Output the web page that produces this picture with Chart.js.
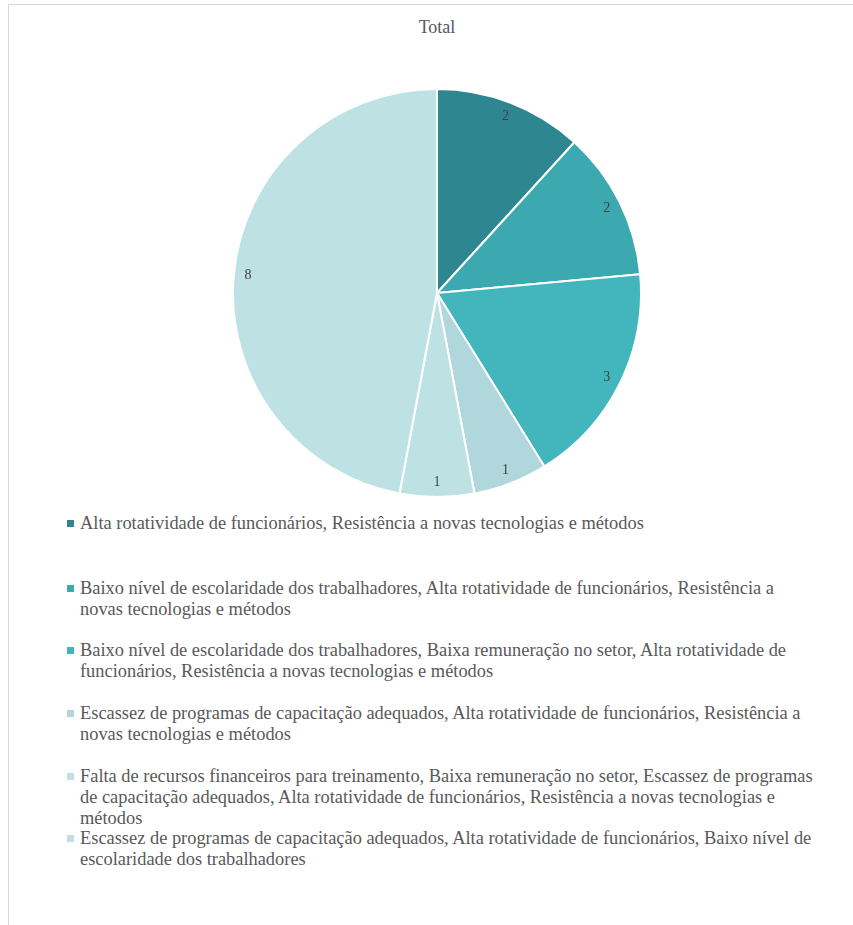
<!DOCTYPE html>
<html>
<head>
<meta charset="utf-8">
<script src="https://cdn.jsdelivr.net/npm/chart.js@4"></script>
<style>
  html,body{margin:0;padding:0;background:#fff;}
  body{width:853px;height:925px;position:relative;overflow:hidden;font-family:"Liberation Serif","Times New Roman",serif;}
  #frame{position:absolute;left:8px;top:4px;right:-2px;bottom:-2px;border-top:1px solid #d6d6d6;border-left:1px solid #d6d6d6;}
  #title{position:absolute;left:0;width:874px;top:16px;text-align:center;font-size:18px;color:#595959;line-height:22px;}
  #pieBox{position:absolute;left:232px;top:88px;width:410px;height:410px;}
  .leg{position:absolute;left:80px;font-size:18.4px;line-height:21px;color:#595959;white-space:nowrap;}
  .sw{position:absolute;left:-13px;top:7px;width:7px;height:7px;}
</style>
</head>
<body>
<div id="frame"></div>
<div id="title"></div>
<div id="pieBox"><canvas id="c" width="410" height="410"></canvas></div>
<div id="legend"></div>
<script>
const chartTitle = "Total";
const categories = [
  ["Alta rotatividade de funcionários, Resistência a novas tecnologias e métodos"],
  ["Baixo nível de escolaridade dos trabalhadores, Alta rotatividade de funcionários, Resistência a", "novas tecnologias e métodos"],
  ["Baixo nível de escolaridade dos trabalhadores, Baixa remuneração no setor, Alta rotatividade de", "funcionários, Resistência a novas tecnologias e métodos"],
  ["Escassez de programas de capacitação adequados, Alta rotatividade de funcionários, Resistência a", "novas tecnologias e métodos"],
  ["Falta de recursos financeiros para treinamento, Baixa remuneração no setor, Escassez de programas", "de capacitação adequados, Alta rotatividade de funcionários, Resistência a novas tecnologias e", "métodos"],
  ["Escassez de programas de capacitação adequados, Alta rotatividade de funcionários, Baixo nível de", "escolaridade dos trabalhadores"]
];
const values = [2, 2, 3, 1, 1, 8];
const colors = ["#2E8790", "#3CA8AF", "#42B5BD", "#AFD7DC", "#BEE2E4", "#BEE2E3"];

document.getElementById('title').textContent = chartTitle;

const legendTops = [513, 578, 640, 703, 766, 828];
const legend = document.getElementById('legend');
categories.forEach((lines, i) => {
  const d = document.createElement('div');
  d.className = 'leg';
  d.style.top = legendTops[i] + 'px';
  const sw = document.createElement('span');
  sw.className = 'sw';
  sw.style.background = colors[i];
  d.appendChild(sw);
  lines.forEach((ln, j) => {
    if (j) d.appendChild(document.createElement('br'));
    d.appendChild(document.createTextNode(ln));
  });
  legend.appendChild(d);
});

const sliceLabels = {
  id: 'sliceLabels',
  afterDatasetsDraw(chart) {
    const ctx = chart.ctx;
    const meta = chart.getDatasetMeta(0);
    ctx.save();
    ctx.font = '14px "Liberation Serif", serif';
    ctx.fillStyle = '#404040';
    ctx.textAlign = 'center';
    ctx.textBaseline = 'middle';
    meta.data.forEach((arc, i) => {
      const p = arc.getProps(['x', 'y', 'startAngle', 'endAngle', 'outerRadius'], true);
      const mid = (p.startAngle + p.endAngle) / 2;
      const r = p.outerRadius * 0.93;
      ctx.fillText(String(values[i]), p.x + Math.cos(mid) * r, p.y + Math.sin(mid) * r);
    });
    ctx.restore();
  }
};

new Chart(document.getElementById('c'), {
  type: 'pie',
  data: {
    labels: categories.map(l => l.join(' ')),
    datasets: [{
      data: values,
      backgroundColor: colors,
      borderColor: '#ffffff',
      borderWidth: 2
    }]
  },
  options: {
    responsive: false,
    animation: false,
    layout: { padding: 0 },
    plugins: { legend: { display: false }, title: { display: false }, tooltip: { enabled: false } }
  },
  plugins: [sliceLabels]
});
</script>
</body>
</html>
